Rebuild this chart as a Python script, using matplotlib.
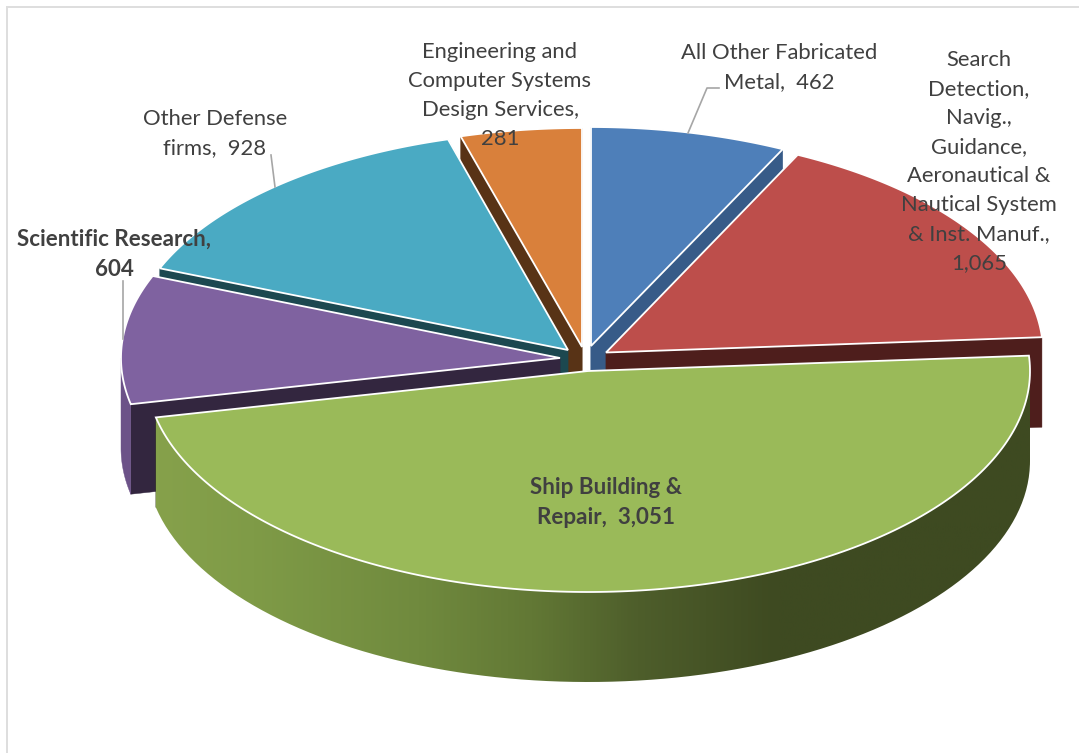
#!/usr/bin/python
import numpy as np
import matplotlib
matplotlib.use("Agg")
import matplotlib.pyplot as plt
from matplotlib.colors import LinearSegmentedColormap
from matplotlib.patches import PathPatch, Polygon
from matplotlib.path import Path

# data, clockwise from 12 o'clock
categories = ["All Other Fabricated\nMetal", "Search\nDetection,\nNavig.,\nGuidance,\nAeronautical &\nNautical System\n& Inst. Manuf.",
              "Ship Building &\nRepair", "Scientific Research", "Other Defense\nfirms", "Engineering and\nComputer Systems\nDesign Services"]
values = [462, 1065, 3051, 604, 928, 281]
value_breaks = [",  ", ",\n", ",  ", ",\n", ",  ", ",\n"]

# slice geometry in pixels
centers = [(591, 346), (606, 352.5), (588, 371), (560, 358), (568, 350), (582, 347)]
rx = [437, 437, 442, 439, 440, 445]
ry = [219, 220, 221, 220, 219, 219]
depth = 90

top_colors = ["#4e7fb9", "#bd4e4b", "#9aba59", "#7f62a0", "#4aaac3", "#d9803b"]
wall_colors = ["#375b88", "#4e1e1c", "#84a04a", "#33263f", "#1c4850", "#583316"]
outer_colors = ["#375b88", "#4e1e1c", "#84a04a", "#6c5288", "#1c4850", "#583316"]
draw_order = [5, 0, 1, 4, 3, 2]

label_pos = [(779, 68), (979, 161.5), (606, 502.5), (114, 254.5), (215, 133.5), (500, 95.5)]
bold = [False, False, True, True, False, False]
label_size = [15.8, 15.8, 16.1, 16.1, 15.8, 15.8]

leaders = [[(688, 133), (707, 88), (719, 88)], [(275, 187), (271, 155)], [(122.5, 281), (122.5, 339)]]

green_stops = [(0.0, "#86a14b"), (0.11, "#7f9b47"), (0.30, "#708a3e"), (0.43, "#627835"),
               (0.55, "#4e5e2b"), (0.71, "#3e4a21"), (1.0, "#3e4a21")]

fig = plt.figure(figsize=(10.79, 7.53), dpi=100)
ax = fig.add_axes([0, 0, 1, 1])
ax.axis("off")


def rim(i, a0, a1):
	t = np.linspace(a0, a1, 200)
	cx, cy = centers[i]
	return np.column_stack([cx + rx[i] * np.sin(t), cy - ry[i] * np.cos(t)])


def drop(pts):
	return pts + np.array([0, depth])


def wall_poly(pts):
	return np.vstack([pts, drop(pts)[::-1]])


edges = np.concatenate([[0], np.cumsum(values)]) / sum(values) * 2 * np.pi

for i in draw_order:
	a0, a1 = edges[i], edges[i + 1]
	tip = np.array([centers[i]], dtype=float)
	arc = rim(i, a0, a1)

	# straight cut walls
	for end in (arc[0], arc[-1]):
		cut = np.vstack([tip, [end]])
		color = wall_colors[i] if i != 2 else "#3e4a21"
		ax.add_patch(Polygon(wall_poly(cut), closed=True, fc=color, ec=color, lw=0.3, zorder=2))

	# round wall, only the part that faces the viewer
	lo, hi = max(a0, np.pi / 2), min(a1, 1.5 * np.pi)
	if hi > lo:
		front = rim(i, lo, hi)
		poly = wall_poly(front)
		if i == 2:
			clip = PathPatch(Path(np.vstack([poly, poly[:1]])), fc="none", ec="none", transform=ax.transData)
			ax.add_patch(clip)
			cmap = LinearSegmentedColormap.from_list("side", green_stops)
			grad = np.linspace(0, 1, 512).reshape(1, -1)
			img = ax.imshow(grad, cmap=cmap, aspect="auto", zorder=2,
				extent=[poly[:, 0].min(), poly[:, 0].max(), poly[:, 1].max(), poly[:, 1].min()])
			img.set_clip_path(clip)
		else:
			ax.add_patch(Polygon(poly, closed=True, fc=outer_colors[i], ec=outer_colors[i], lw=0.3, zorder=2))

	# top face
	ax.add_patch(Polygon(np.vstack([tip, arc]), closed=True, fc=top_colors[i], ec="white", lw=1.3, joinstyle="miter", zorder=2))

# leader lines
for line in leaders:
	pts = np.array(line)
	ax.plot(pts[:, 0], pts[:, 1], color="#a6a6a6", lw=1.2, zorder=3)

# data labels
for i in range(len(values)):
	txt = categories[i] + value_breaks[i] + f"{values[i]:,}"
	ax.text(label_pos[i][0], label_pos[i][1], txt, family="Lato", fontsize=label_size[i], color="#404040",
		fontweight="bold" if bold[i] else "normal", ha="center", va="center",
		multialignment="center", linespacing=1.57, zorder=4)

# chart frame
ax.plot([7, 7], [753, 7], color="#dedede", lw=1.4, zorder=1, solid_capstyle="projecting")
ax.plot([7, 1079], [7, 7], color="#dedede", lw=1.4, zorder=1, solid_capstyle="projecting")

ax.set_xlim(0, 1079)
ax.set_ylim(753, 0)
fig.savefig("out.png", dpi=100)
